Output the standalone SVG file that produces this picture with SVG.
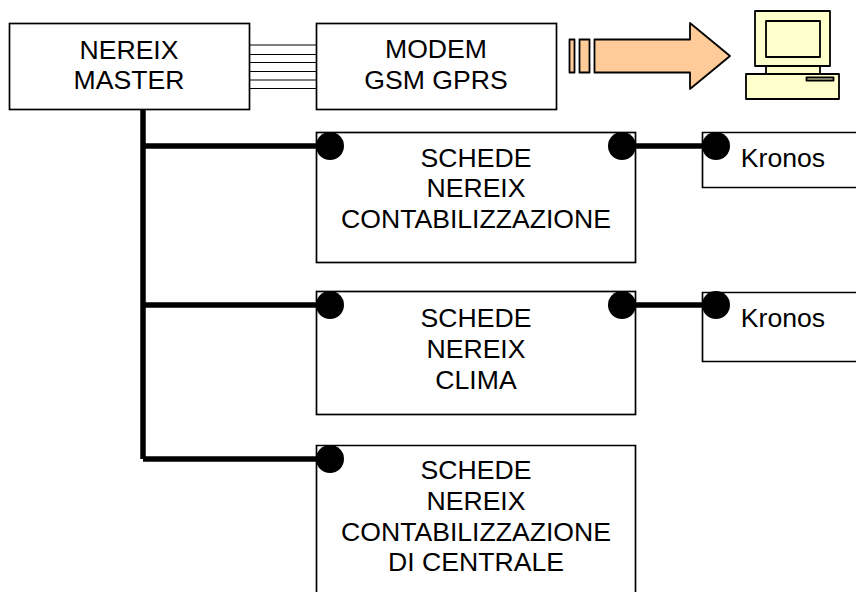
<svg xmlns="http://www.w3.org/2000/svg" width="856" height="592" viewBox="0 0 856 592">
<style>
.box{fill:#fff;stroke:#000;stroke-width:1.7}
.thin{stroke:#000;stroke-width:1;fill:none}
.bus{stroke:#000;stroke-width:5.5;fill:none}
.dot{fill:#000}
.t{font-family:"Liberation Sans",Arial,sans-serif;font-size:26.6px;fill:#000;text-anchor:middle}
.a{fill:#ffcc99;stroke:#000;stroke-width:1.8;stroke-linejoin:round}
.p{fill:#ffffcc;stroke:#000;stroke-width:1.8;stroke-linejoin:round}
</style>
<rect width="856" height="592" fill="#fff"/>
<g id="connectors">
<path class="thin" d="M250 45H316M250 54.500H316M250 62.500H316M250 71.500H316M250 80H316M250 88.500H316"/>
<path class="bus" d="M143 110V459M143 146H330M143 305H330M143 459H330M622 146H716M622 305H716"/>
</g>
<g id="master"><rect class="box" x="9.500" y="23.500" width="240" height="86"/>
<text class="t" x="129" y="59">NEREIX</text><text class="t" x="129" y="89">MASTER</text></g>
<g id="modem"><rect class="box" x="316.500" y="23.500" width="240" height="86"/>
<text class="t" x="436" y="58">MODEM</text><text class="t" x="436" y="89">GSM GPRS</text></g>
<g id="arrow">
<path class="a" d="M569.500 39.500h5v33h-5zM579.500 39.500h10v33h-10zM594.500 39.500H690V23l40 33-40 33V72.500H594.500z"/></g>
<g id="computer">
<path class="p" d="M755 11h75v55h-75z"/><path class="p" d="M766 21h54v36h-54z"/><path class="p" d="M766 66h54v8h-54z"/><path class="p" d="M746 74h93v25h-93z"/><path class="p" d="M806.500 77.500h27v3h-27z"/></g>
<g id="schede1"><rect class="box" x="316.500" y="132.500" width="319" height="130"/>
<text class="t" x="476" y="167">SCHEDE</text><text class="t" x="476" y="197">NEREIX</text><text class="t" x="476" y="228">CONTABILIZZAZIONE</text>
<circle class="dot" cx="330" cy="146" r="14"/><circle class="dot" cx="622" cy="146" r="14"/></g>
<g id="kronos1"><path class="box" d="M856 132.500H702.500V187.500H856"/>
<text class="t" x="783" y="167">Kronos</text><circle class="dot" cx="716" cy="146" r="14"/></g>
<g id="schede2"><rect class="box" x="316.500" y="291.500" width="319" height="123"/>
<text class="t" x="476" y="327">SCHEDE</text><text class="t" x="476" y="358">NEREIX</text><text class="t" x="476" y="389">CLIMA</text>
<circle class="dot" cx="330" cy="305" r="14"/><circle class="dot" cx="622" cy="305" r="14"/></g>
<g id="kronos2"><path class="box" d="M856 292.500H702.500V361.500H856"/>
<text class="t" x="783" y="327">Kronos</text><circle class="dot" cx="716" cy="305" r="14"/></g>
<g id="schede3"><path class="box" d="M316.500 592V445.500H635.500V592"/>
<text class="t" x="476" y="479">SCHEDE</text><text class="t" x="476" y="510">NEREIX</text><text class="t" x="476" y="541">CONTABILIZZAZIONE</text><text class="t" x="476" y="571">DI CENTRALE</text>
<circle class="dot" cx="330" cy="459" r="14"/></g>
</svg>
